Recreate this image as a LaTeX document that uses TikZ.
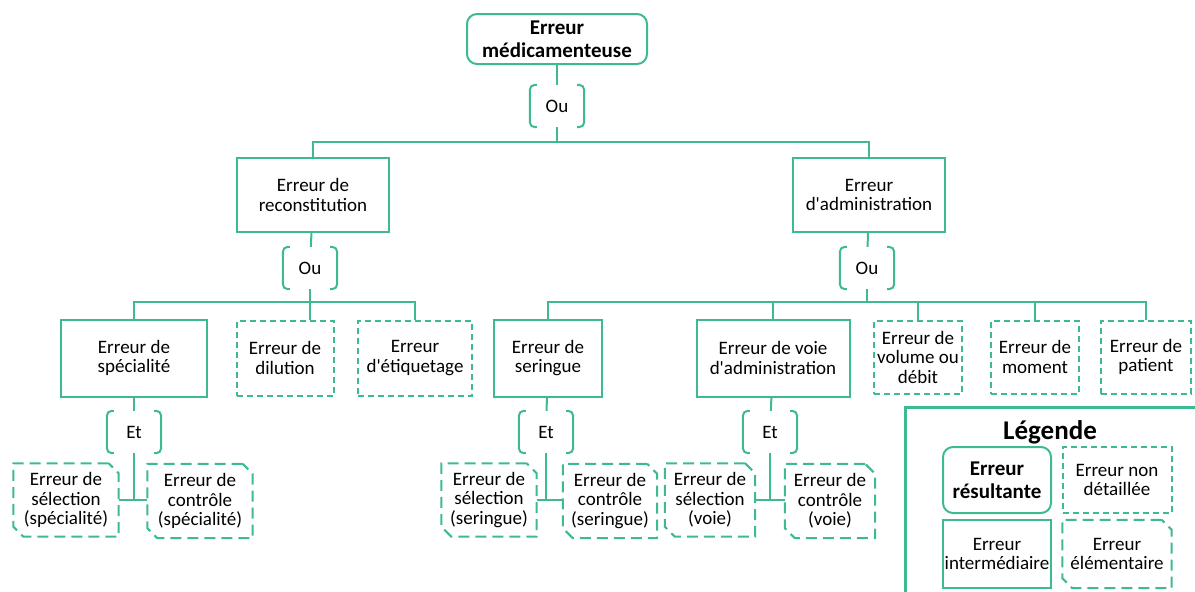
\documentclass[tikz,border=0pt]{standalone}
\usepackage{fontspec}
\setmainfont{Carlito}[Ligatures=TeXOff]
\definecolor{vert}{RGB}{62,186,146}
\tikzset{
  txt/.style={font=\fontsize{19}{19.5}\selectfont,align=center,inner sep=0pt},
  sz/.style 2 args={minimum width=#1,minimum height=#2},
  trait/.style={draw=vert,line width=2pt},
  result/.style={txt,trait,rounded corners=10pt},
  inter/.style={txt,trait},
  nondet/.style={txt,trait,dash pattern=on 6pt off 4pt},
  gate/.style={txt,sz={54}{42},append after command={\pgfextra{
    \draw[trait,rounded corners=5pt]
      ([xshift=7pt]\tikzlastnode.north west)--(\tikzlastnode.north west)
      --(\tikzlastnode.south west)--([xshift=7pt]\tikzlastnode.south west)
      ([xshift=-7pt]\tikzlastnode.north east)--(\tikzlastnode.north east)
      --(\tikzlastnode.south east)--([xshift=-7pt]\tikzlastnode.south east);}}},
  elem/.style={txt,append after command={\pgfextra{
    \draw[trait,dash pattern=on 11pt off 6pt]
      ([xshift=-10pt]\tikzlastnode.north east)--(\tikzlastnode.north west)
      --([yshift=10pt]\tikzlastnode.south west)--([xshift=10pt]\tikzlastnode.south west)
      --(\tikzlastnode.south east)--([yshift=-10pt]\tikzlastnode.north east)--cycle;}}},
  lien/.style={draw=vert,line width=2pt}
}
\begin{document}
\begin{tikzpicture}[x=1pt,y=-1pt]
\useasboundingbox (0,0) rectangle (1195,592);
\clip (0,0) rectangle (1195,592);
% arbre
\node[result,sz={180}{50},font=\bfseries\fontsize{21}{23}\selectfont] (med) at (557,39) {Erreur\\médicamenteuse};
\node[gate] (ou1) at (557,106) {Ou};
\node[inter,sz={152}{74}] (rec) at (313,195) {Erreur de\\reconstitution};
\node[inter,sz={152}{74}] (adm) at (869,195) {Erreur\\d'administration};
\node[gate] (ou2) at (310,268) {Ou};
\node[gate] (ou3) at (867,268) {Ou};
\node[inter,sz={146}{77}] (spe) at (134,358) {Erreur de\\spécialité};
\node[nondet,sz={97}{75}] (dil) at (285,358) {Erreur de\\dilution};
\node[nondet,sz={114}{75}] (eti) at (415,358) {Erreur\\d'étiquetage};
\node[inter,sz={108}{77}] (ser) at (548,358) {Erreur de\\seringue};
\node[inter,sz={153}{77}] (voie) at (773,358) {Erreur de voie\\d'administration};
\node[nondet,sz={88}{73}] (vol) at (918,357) {Erreur de\\volume ou\\débit};
\node[nondet,sz={88}{73}] (mom) at (1035,357) {Erreur de\\moment};
\node[nondet,sz={90}{73}] (pat) at (1146,357) {Erreur de\\patient};
\node[gate] (et1) at (134,432) {Et};
\node[gate] (et2) at (546,432) {Et};
\node[gate] (et3) at (770,432) {Et};
\node[elem,sz={105}{73}] (sel1) at (66,500) {Erreur de\\sélection\\(spécialité)};
\node[elem,sz={105}{74}] (con1) at (200,501) {Erreur de\\contrôle\\(spécialité)};
\node[elem,sz={95}{73}] (sel2) at (489,500) {Erreur de\\sélection\\(seringue)};
\node[elem,sz={94}{74}] (con2) at (610,501) {Erreur de\\contrôle\\(seringue)};
\node[elem,sz={90}{73}] (sel3) at (710,500) {Erreur de\\sélection\\(voie)};
\node[elem,sz={90}{74}] (con3) at (830,501) {Erreur de\\contrôle\\(voie)};
% liens
\draw[lien] (med)--(ou1);
\draw[lien] (ou1.south)--++(0,15)-|(rec.north);
\draw[lien] (ou1.south)--++(0,15)-|(adm.north);
\draw[lien] (rec)--(ou2);
\draw[lien] (adm)--(ou3);
\draw[lien] (ou2.south)--++(0,13)-|(spe.north);
\draw[lien] (ou2.south)--(ou2.south|-dil.north);
\draw[lien] (ou2.south)--++(0,13)-|(eti.north);
\foreach \n in {ser,voie,vol,mom,pat}
  \draw[lien] (ou3.south)--++(0,13)-|(\n.north);
\draw[lien] (spe)--(et1);
\draw[lien] (ser)--(et2);
\draw[lien] (voie)--(et3);
\draw[lien] (et1.south)--(et1.south|-sel1.east);
\draw[lien] (sel1.east)--(con1.west|-sel1.east);
\draw[lien] (et2.south)--(et2.south|-sel2.east);
\draw[lien] (sel2.east)--(con2.west|-sel2.east);
\draw[lien] (et3.south)--(et3.south|-sel3.east);
\draw[lien] (sel3.east)--(con3.west|-sel3.east);
% legende
\draw[draw=vert,line width=3pt] (1205,407)-|(905,600);
\node[font=\bfseries\fontsize{27}{30}\selectfont] (leg) at (1050,432) {Légende};
\node[result,sz={108}{66},font=\bfseries\fontsize{21}{23}\selectfont] (lres) at (997,480) {Erreur\\résultante};
\node[nondet,sz={109}{66}] (lnon) at (1117,480) {Erreur non\\détaillée};
\node[inter,sz={108}{68}] (lint) at (997,554) {Erreur\\intermédiaire};
\node[elem,sz={109}{68}] (lele) at (1117,554) {Erreur\\élémentaire};
\end{tikzpicture}
\end{document}
